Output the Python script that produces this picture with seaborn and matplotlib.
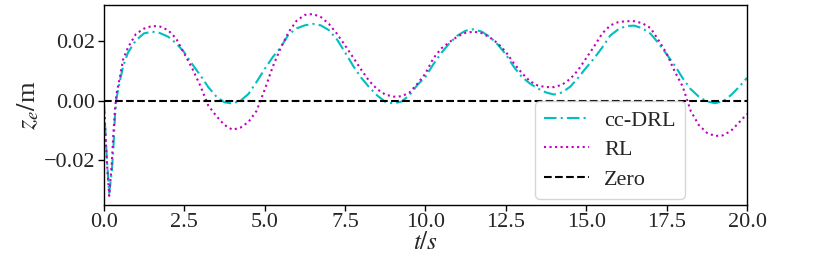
import numpy as np
import pandas as pd
import matplotlib
matplotlib.use("Agg")
import matplotlib.pyplot as plt
import seaborn as sns

# time samples (s)
t = [0.0, 0.1, 0.17, 0.25, 0.3, 0.35, 0.4, 0.5, 0.6, 0.75,
     1.0, 1.25, 1.5, 1.75, 2.0, 2.25, 2.5, 2.75, 3.0, 3.25, 3.5, 3.75,
     4.0, 4.25, 4.5, 4.75, 5.0, 5.25, 5.5, 5.75, 6.0, 6.25, 6.5, 6.75,
     7.0, 7.25, 7.5, 7.75, 8.0, 8.25, 8.5, 8.75, 9.0, 9.25, 9.5, 9.75,
     10.0, 10.25, 10.5, 10.75, 11.0, 11.25, 11.5, 11.75, 12.0, 12.25, 12.5, 12.75,
     13.0, 13.25, 13.5, 13.75, 14.0, 14.25, 14.5, 14.75, 15.0, 15.25, 15.5, 15.75,
     16.0, 16.25, 16.5, 16.75, 17.0, 17.25, 17.5, 17.75, 18.0, 18.25, 18.5, 18.75,
     19.0, 19.25, 19.5, 19.75, 20.0]

cc_drl = [0.0, -0.020, -0.031, -0.024, -0.016, -0.005, 0.001, 0.0064, 0.0114, 0.016,
          0.0202, 0.0225, 0.0231, 0.0226, 0.0214, 0.0192, 0.0162, 0.0122, 0.0085, 0.0045, 0.0013, -0.0006,
          -0.001, -0.0001, 0.0022, 0.0062, 0.0105, 0.0145, 0.0178, 0.0222, 0.0242, 0.0252, 0.0257, 0.0252,
          0.0236, 0.0205, 0.0162, 0.0117, 0.0077, 0.0045, 0.0017, -0.0004, -0.001, -0.0004, 0.0017, 0.0052,
          0.0079, 0.0122, 0.016, 0.0192, 0.0218, 0.0234, 0.0239, 0.0231, 0.0214, 0.0188, 0.0155, 0.0113,
          0.0079, 0.0057, 0.004, 0.0027, 0.002, 0.0027, 0.0046, 0.0076, 0.011, 0.0142, 0.0178, 0.0218,
          0.0239, 0.025, 0.0251, 0.0242, 0.0224, 0.0192, 0.0155, 0.0118, 0.0075, 0.0038, 0.0013, -0.0003,
          -0.0009, -0.0003, 0.0018, 0.0045, 0.0076]

rl = [0.0, -0.021, -0.032, -0.021, -0.011, -0.003, 0.0025, 0.0077, 0.0137, 0.0177,
      0.0223, 0.0241, 0.025, 0.0248, 0.0236, 0.0208, 0.0158, 0.0108, 0.005, -0.0017, -0.0052, -0.0082,
      -0.0098, -0.0091, -0.0072, -0.0035, 0.0035, 0.0112, 0.0176, 0.023, 0.0268, 0.0287, 0.029, 0.028,
      0.0257, 0.0224, 0.0185, 0.0145, 0.0104, 0.0066, 0.0038, 0.002, 0.0013, 0.0014, 0.0026, 0.0056,
      0.009, 0.0142, 0.0175, 0.0196, 0.0215, 0.0227, 0.0231, 0.0226, 0.0212, 0.0192, 0.0163, 0.0125,
      0.0092, 0.0065, 0.005, 0.0045, 0.0045, 0.0053, 0.0072, 0.0102, 0.0142, 0.0182, 0.0225, 0.0252,
      0.0263, 0.0266, 0.0266, 0.0259, 0.0243, 0.0202, 0.0158, 0.0098, 0.0047, -0.0035, -0.0082, -0.0108,
      -0.0119, -0.0117, -0.0102, -0.0074, -0.0045]

zero = [0.0] * len(t)

df = pd.DataFrame({"t": t, "cc-DRL": cc_drl, "RL": rl, "Zero": zero})

sns.set_style("ticks")
plt.rcParams["font.family"] = ["Liberation Serif", "DejaVu Serif"]
plt.rcParams["mathtext.fontset"] = "stix"

fig = plt.figure(figsize=(8.3, 2.6), dpi=100)
ax = fig.add_axes([0.125, 0.2115, 0.775, 0.7695])

sns.lineplot(data=df, x="t", y="cc-DRL", ax=ax, color="c", linestyle=(0, (6, 2, 1, 2)), lw=1.5, label="cc-DRL")
sns.lineplot(data=df, x="t", y="RL", ax=ax, color="m", linestyle=":", lw=1.5, label="RL")
sns.lineplot(data=df, x="t", y="Zero", ax=ax, color="k", linestyle="--", lw=1.5, label="Zero")

ax.set_xlim(0, 20)
ax.set_xticks(np.arange(0, 20.1, 2.5))
ax.set_yticks([-0.02, 0.0, 0.02])
ax.set_xlabel("$t/s$", fontsize=18, labelpad=0)
ax.set_ylabel("$z_e/$m", fontsize=19, labelpad=2)
ax.tick_params(labelsize=16, direction="out", length=4, width=1, color="k", pad=2)
for s in ax.spines.values():
    s.set_color("k")
    s.set_linewidth(1)

ax.legend(loc="lower right", bbox_to_anchor=(0.91, 0.01), fontsize=16,
          handlelength=2.0, handletextpad=0.7, frameon=True, borderaxespad=0.2,
          labelspacing=0.4)

fig.savefig("out.png", dpi=100)
